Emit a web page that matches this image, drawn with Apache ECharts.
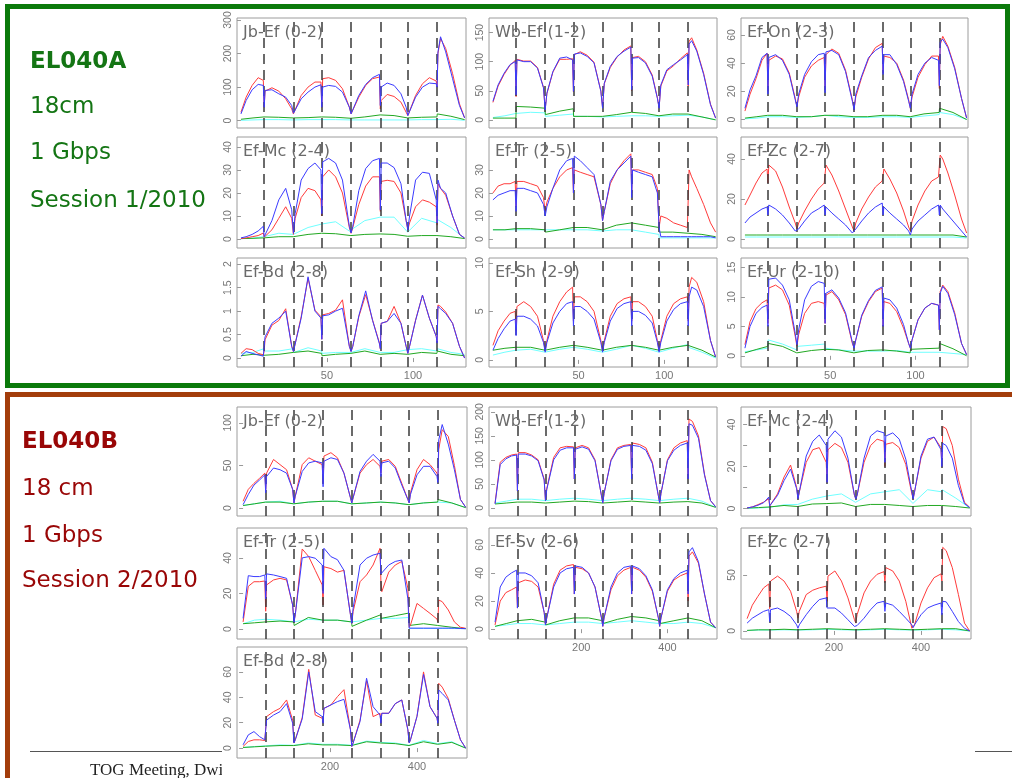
<!DOCTYPE html>
<html><head><meta charset="utf-8">
<script src="https://cdn.jsdelivr.net/npm/echarts@6/dist/echarts.min.js"></script>
<style>html,body{margin:0;padding:0;background:#fff}#c{width:1012px;height:778px}</style>
</head><body><div id="c"></div>
<script>
// ---------- x samples ----------
const X_TOP = [0,3,6.5,10,13,13.5,14,18,22,26,29.5,30.5,31.5,35,39,43,46.5,47,47.5,51,55,59,63,64,65,68.5,72.5,76.5,80.5,81,81.5,85,89,93,96,97,98,101.5,105.5,109.5,113.5,114,114.5,116,119,123,127,130];
const XL_TOP = [0,7,13.4,13.6,22,30.4,30.6,39,46.9,47.1,55,63.9,64.1,72,80.9,81.1,89,96.9,97.1,105,113.9,114.1,122,130];
const X_BOT = [0,12,25,38,50,52,54,70,85,100,114,117,120,136,151,166,182,184,186,202,217,232,247,250,253,269,284,299,315,317,319,335,350,365,379,382,385,400,415,430,446,448,450,458,472,486,500,512];
const XL_BOT = [0,26,51.5,52.5,85,116.5,117.5,150,183.5,184.5,217,249.5,250.5,284,316.5,317.5,350,381.5,382.5,415,447.5,448.5,480,512];
const DASH_TOP = [13.5,30.5,47,64,81,97,114];
const DASH_BOT = [52,117,184,250,317,382,448];
const XTICK_TOP = [50,100];
const XTICK_BOT = [200,400];

// ---------- EL040A ----------
const A1_red  = [25,70,105,128,120,40,88,98,88,65,35,20,25,75,100,115,115,40,125,128,120,95,40,20,25,70,105,125,130,35,60,78,72,55,25,15,20,75,110,128,118,100,200,245,215,140,50,8];
const A1_blue = [20,60,92,108,105,40,90,92,80,70,45,22,22,65,85,100,107,40,100,105,102,85,40,20,25,75,108,128,138,45,100,112,105,80,40,15,20,70,100,112,110,100,205,250,205,125,45,8];
const A1_cyan = [1,2,3,3,3,2,2,3,3,3,3,2,2,2,2,2,2,2,2,3,3,6,4,1];
const A1_green= [4,8,11,9,10,8,6,9,11,9,10,7,6,11,17,14,15,8,7,10,11,20,13,3];

const A2_red  = [30,58,78,94,102,40,104,101,101,90,56,18,45,82,104,104,105,48,112,117,111,99,50,21,62,90,108,120,127,50,107,109,100,77,38,21,58,84,93,105,115,58,135,141,120,80,27,3];
const A2_blue = [32,60,80,95,100,43,103,100,100,89,55,17,46,83,106,108,103,49,113,115,109,98,49,20,63,92,109,118,125,52,106,107,98,75,37,20,60,86,95,103,112,60,130,136,118,78,26,3];
const A2_cyan = [4,7,11,13,13,12,6,8,10,6,6,5,4,6,7,7,7,6,7,7,8,9,5,0];
const A2_green= [3,3,3,23,22,20,9,15,19,6,6,6,4,9,13,14,11,7,9,10,10,8,5,0];

const A3_red  = [6,18,29,42,47,20,42,45,43,33,15,9,16,30,38,42,44,21,46,50,47,35,14,7,16,30,43,51,54,33,45,44,40,28,14,8,16,30,39,45,45,22,53,59,52,37,15,1];
const A3_blue = [8,21,31,44,47,18,44,46,42,32,14,9,18,32,41,46,47,19,48,49,46,34,13,7,18,31,44,49,52,32,46,46,39,27,13,8,18,32,40,44,42,24,55,57,51,36,15,1];
const A3_cyan = [0.5,1,2,2,2,1.5,1,2,3,2.5,2,1.5,1,1.5,2,2,2,1.5,1,2.5,3.5,5,3.5,0];
const A3_green= [1,2,3,3,3,2,1,2,3,3,3,2,1,2,3,3,3,2,1,4,5,8,5,0];

const B1_red  = [0.2,0.5,1,1.5,2.6,0.8,0.8,4,9,14,9,2,9,18,22,21,17,10,27,30,27,20,5,2.5,5,15,23,27,27,12,25,25.5,25,20,8,4,7,14,17,16,14,6,24,22,19,10,2,0.4];
const B1_blue = [0.5,1,2,3.5,5.5,1,1,8,17,22,12.7,2.5,11,25.6,30.6,33,30,11,33.5,35,33,25.6,5.5,2.6,5.5,21,30.6,34,35,12.7,33,33,31,24,8,4,10,25.6,29,28.5,17,7,25.6,22,20,10,2,0.4];
const B1_cyan = [0.1,0.4,1,0.8,2.5,2,2.5,5,6.5,7,7.5,3,4,8,9.5,9,9.5,3,3,9,7,8.5,5,0.3];
const B1_green= [0.2,0.3,0.5,0.5,1,1,1,2,2.5,2.5,2.3,1.5,1.5,2,2.2,2.2,2,1.2,1.2,1.5,1.5,2,1,0.2];

const B2_red  = [20,23,24,24,25,14,25,25,24,23,18,12,16,22,27,30,31,20,30,29,28,27,15,8,12,24,30,34,37,20,30,30,29,28,22,5,10,9,7,6,5,5,30,27,22,15,7,3];
const B2_blue = [17,19,20,21,21,12,22,22,21,20,15,10,14,22,30,34,35,20,36,34,31,28,15,8,12,25,30,33,36,18,30,29,28,27,20,5,1,1,1,1,1,1,1,1,1,1,1,0.5];
const B2_cyan = [4,4,4,4,4,4,3.5,4,4,4,4,3.5,3,4,4,3.5,3,2,0.5,0.5,0.5,0.5,0.5,0.5];
const B2_green= [4,4,4.5,4.5,4.5,4,3,4,5,5,5,4,4,6,7,7,6,5,3,3,2.5,2.5,2,1];

const B3_red  = [17,22,28,33,35,28,37,34,26,16,8,5,8,14,20,25,28,28,37,32,24,15,6,4,8,15,21,26,29,28,35,30,23,14,6,4,9,17,24,29,31,30,42,40,33,22,10,3];
const B3_blue = [8,11,13,15,16,12,17,15,12,8,4,3,5,9,13,15,17,12,16,13,10,7,3,2,5,9,13,16,18,12,16,13,10,7,4,2,5,9,12,15,17,12,17,15,12,8,4,1];
const B3_cyan = [1,1,1,1,1,1,1,1,1,1,1,1,1,1,1,1,1,1,1,1,1,1,1,0.5];
const B3_green= [2,2,2,2,2,2,2,2,2,2,2,2,2,2,2,2,2,2,2,2,2,3,2,1];

const C1_red  = [0.1,0.2,0.18,0.1,0.07,0.15,0.39,0.7,0.8,1.05,0.25,0.14,0.18,0.88,1.7,1.02,0.88,0.4,0.92,0.95,1.02,1.24,0.25,0.14,0.25,0.88,1.35,0.81,0.32,0.2,0.74,0.78,1.1,0.74,0.25,0.1,0.25,0.81,1.34,0.85,0.46,0.32,1.13,1.1,0.98,0.74,0.25,0];
const C1_blue = [0.04,0.14,0.1,0.07,0.04,0.25,0.45,0.74,0.85,1.0,0.25,0.14,0.18,0.85,1.73,1.0,0.85,0.4,0.9,0.92,1.0,1.06,0.25,0.14,0.25,0.9,1.43,0.8,0.3,0.2,0.74,0.78,0.95,0.74,0.25,0.1,0.25,0.8,1.34,0.85,0.46,0.32,1.1,1.05,0.95,0.74,0.25,0];
const C1_cyan = [0.1,0.12,0.2,0.15,0.15,0.2,0.12,0.22,0.15,0.1,0.12,0.12,0.1,0.2,0.12,0.15,0.12,0.18,0.15,0.2,0.15,0.2,0.12,0.08];
const C1_green= [0.05,0.08,0.06,0.1,0.08,0.12,0.1,0.15,0.1,0.05,0.08,0.1,0.1,0.15,0.08,0.12,0.1,0.08,0.1,0.12,0.1,0.15,0.08,0.05];

const C2_red  = [1.5,3,4,4.8,5,3,5.5,6,5.5,4.5,2,1,2,4.5,6,7,7.5,4,6.5,6.5,6,5,2,1,2,4.5,5.8,6.3,6.5,4,6,6,5.5,4.5,2,1,2,4.5,5.8,6.3,6.5,4,7.5,8.5,8,6,2,0.3];
const C2_blue = [1,2.2,3.2,4,4.2,2.5,4.5,4.5,4.2,3.5,1.8,0.8,1.8,3.8,5,5.8,6,3.5,5.5,5.5,5,4.2,1.8,0.8,1.8,4,5.3,5.8,6,3.5,5,5,4.6,3.8,1.8,0.8,1.8,4,5.2,5.8,6,3.5,6.5,7.5,7.2,5.5,2,0.3];
const C2_cyan = [0.5,0.8,1,1.2,1.1,0.8,0.8,1.1,1.3,1.3,1.1,0.8,0.8,1.1,1.5,1.5,1.2,0.8,0.8,1.2,1.6,1.3,0.8,0.2];
const C2_green= [1,1.2,1.3,1.5,1.3,1,1,1.3,1.5,1.5,1.3,1,1,1.3,1.5,1.5,1.3,1,1,1.3,1.5,1.5,1,0.3];

const C3_red  = [1.9,5.8,8,9,9.5,5.5,11.5,12,11.2,8.6,3.3,1.6,3.6,7.2,8.9,9.2,8.9,5.5,10.3,10.9,9.5,7,2.1,1.3,2.7,6.7,9.2,10.9,11.5,5,9.2,8.9,7.5,4.7,2.1,1.3,2.7,6.1,8.1,8.9,8.6,4.4,10.9,12,10.9,7.3,2.1,0.2];
const C3_blue = [1.3,5,7.2,8.2,8.6,5,13,13.2,12,9.5,3.8,1.9,4.4,9.5,11.8,12.6,12.3,5.5,10.6,11.2,9.8,7.3,2.3,1.3,2.7,6.9,9.4,11.1,11.7,5,9.8,9.5,8.1,5.3,2.1,1.3,2.7,6.1,8.1,8.9,8.6,4.4,10.6,11.8,10.6,7,2.1,0.2];
const C3_cyan = [0.7,1,1.3,2.7,2,1,1.6,1.8,2,1.3,1,0.8,0.6,0.8,0.8,1,0.9,0.6,0.6,0.6,0.6,0.5,0.4,0.2];
const C3_green= [0.5,1.1,1.6,2.1,1.6,0.5,0.7,0.9,1.1,1.2,1,0.5,0.7,0.9,1,1,0.8,0.5,1.1,1.2,1.3,2.1,1.2,0];

// ---------- EL040B ----------
const D1_red  = [8,22,29,35,41,22,41,57,51,45,22,6,14,51,59,55,51,29,61,65,59,41,12,6,12,41,51,57,49,41,55,57,49,29,10,6,18,45,57,51,41,33,69,92,84,50,10,1];
const D1_blue = [4,16,27,33,39,18,37,47,45,41,22,6,14,43,53,55,53,25,55,59,57,41,12,6,12,43,55,63,55,37,53,55,47,27,10,6,16,39,49,49,37,30,80,98,75,45,10,1];
const D1_cyan = [3,5,7,9,8,5,5,7,8,7,8,5,5,6,7,6,6,4,4,6,7,9,6,0.5];
const D1_green= [3,5,7,6,7,5,5,7,8,7,8,5,5,6,7,6,6,4,4,6,7,10,6,0.5];

const D2_red  = [10,95,105,110,112,35,115,115,110,100,60,15,40,105,125,128,127,60,125,130,125,100,25,10,30,100,125,130,132,60,135,132,125,95,25,10,30,100,125,135,140,60,185,180,150,70,15,2];
const D2_blue = [8,90,102,108,110,35,112,112,108,98,58,15,38,100,120,125,125,60,122,127,122,98,25,10,30,98,122,128,130,60,130,128,120,92,25,10,30,98,120,130,135,60,175,172,145,68,15,2];
const D2_cyan = [10,14,18,18,18,15,15,18,20,20,18,15,15,18,20,20,18,15,15,18,20,20,14,1];
const D2_green= [8,10,12,12,12,10,10,12,14,14,13,10,10,12,14,14,12,10,10,12,13,15,10,1];

const D3_red  = [0.3,0.8,1.9,3.1,4.7,1.3,1.6,7,15,20.7,10,4.7,7.8,22,28,29,22,12.5,28,31,29,22,6.3,4.7,6.3,22,30,33,32,20,30.6,31.4,29,21,7,4.7,7.8,24,32,34,29,20,39,38,30,14,3,0.6];
const D3_blue = [0.3,0.8,1.6,2.8,5.5,1.3,1.6,6.3,13.3,18.8,9.4,4.7,7.8,25,32,35,30,12.5,33,37,34,24,6.3,4.7,6.3,24,34.5,37,36,22,34.5,36,33,23.5,7.8,4.7,7.8,25,33,34,28,20,31,30,24,11,2.4,0.5];
const D3_cyan = [0.1,0.3,0.6,0.6,1.8,2,2.5,4.5,6,6.5,7,3,3.5,7,8,8.5,9,2.5,3,9,8,9,5,0.3];
const D3_green= [0.3,0.5,0.8,0.8,1.5,1,1.5,2.2,2.4,2.4,2.7,1,1.2,2,2,2,1.5,1,1,1.5,1.5,2,1,0.3];

const E1_red  = [4,24,26.6,26.6,27,10,24.8,27.6,28.5,27.6,13.5,4,8,45,40.7,33,24.8,13.5,35,34,32,33,8,3.2,9.8,26.6,30.4,36,45.4,26.6,21,32,36,38,23,1,2.2,14.4,11.6,8.8,5.6,4,16.3,15.4,10.7,4,1,0.4];
const E1_blue = [6,30,29.5,29.5,30.4,17,31,30.4,29.5,28.5,13.5,4,8,40,40.7,39.8,36,20,45.4,40.7,39,33,8,3.2,11.6,36,39.8,41.6,42.6,31,31,36,38,38.8,17,0.5,0.5,0.5,0.5,0.5,0.5,0.5,0.5,0.5,0.5,0.5,0.3,0.2];
const E1_cyan = [3,5,5.5,5.5,5,4,3,5.5,5,5,5,4,4,5,6,5,6,6.5,0.4,0.3,0.3,0.3,0.3,0.2];
const E1_green= [3,3.5,4,4,4.5,4,2,6.5,5,5.5,5,4,1.5,5,8,6,7.5,9,2,3,2,1.5,1,0.2];

const E2_red  = [3,20,26,28,30,15,33,35,34,30,12,3,8,32,42,45,46,25,44,43,40,30,8,2,8,28,38,42,44,25,44,42,37,27,8,2,8,27,35,38,40,20,52,55,47,25,5,1];
const E2_blue = [5,30,37,40,42,15,40,40,38,33,12,3,8,30,40,43,44,25,45,44,40,30,8,2,8,30,40,44,45,25,45,43,38,28,8,2,8,28,36,40,42,25,55,58,48,25,5,1];
const E2_cyan = [2,3,4,4,4,3,2,4,5,5,5,4,3,5,6,6,5,4,3,4,5,5,4,1];
const E2_green= [2,4,6,6,7,5,3,6,8,8,8,6,4,7,9,9,8,6,4,6,8,8,6,1];

const E3_red  = [11,23,31,38.5,42,20,44.6,49,44.6,35.5,17.5,11.4,17.5,32.5,36.4,38.5,40,26.5,49,53.6,44.6,29.5,10,7,14.5,34,44.6,50.6,53,43,56.6,53.6,44.6,26.5,2.4,1,5.4,25,38.5,47.6,51,44.6,74.7,71.7,56.6,32.5,7,0];
const E3_blue = [7,11.4,14.5,17.5,19,8.4,19,20.5,17.5,13,5.4,2.4,5.4,14.5,22,28,29.5,20.5,22,20.5,16,10,4,2.4,4.8,11.4,19,25,26.5,17.5,25,23,17.5,11.4,5.4,3,5.4,14.5,20.5,23,25,14.5,26.5,26,17.5,8.4,2.4,0];
const E3_cyan = [0.3,0.8,0.8,0.8,1,0.8,0.8,1,1.5,1.5,1,0.8,0.8,1,1.5,1.5,1,0.8,0.8,1,1.5,1.5,1,0];
const E3_green= [0.5,1,1,1,1.5,1,1,1.5,2,2,1.5,1,1,1.5,2,2,1.5,1,1,1.5,2,2,2,0];

const F1_red  = [1.3,5.2,6.5,6.5,6,6,24.8,28.7,31.3,37.9,22,4,6.5,24,62,26,23.5,19.6,31.3,34,40.5,46,14.4,1.3,4,22,53,24.8,27.4,19.6,27.4,27.4,35,37.9,14.4,4,6.5,25,60,32.6,23.5,19.6,51,48,39,22,6.5,0];
const F1_blue = [2.6,10.4,13,9,6.5,6,22,26,28.7,35,19.6,4,6.5,23,60,28.7,24.8,19.6,31.3,34,36.6,38.4,14.4,1.3,4,21,55,32.6,26,19.6,27.4,27.4,35,37.9,14.4,4,6.5,25,58,32.6,23.5,19.6,45.7,43,37.9,22,6.5,0];
const F1_cyan = [0.5,1.2,1.8,1.8,2.5,2.2,2.2,4,3,3,3,2.2,2.2,5.5,4.5,4,4,2.2,2.2,6,3.5,5,5,0];
const F1_green= [0.5,1,1.5,1.5,2,2,2,3.4,2.5,2.5,2.5,2,2,5,4,3.5,3.5,2,2,5,3,4.5,4.5,0];

// ---------- axis ticks ----------
const YT_A1=[0,100,200,300], YT_A2=[0,50,100,150], YT_A3=[0,20,40,60];
const YT_B1=[0,10,20,30,40], YT_B2=[0,10,20,30], YT_B3=[0,20,40];
const YT_C1=[0,0.5,1,1.5,2], YT_C2=[0,5,10], YT_C3=[0,5,10,15];
const YT_D1=[0,50,100], YT_D2=[0,50,100,150,200], YT_D3=[0,10,20,30,40], YL_D3=[0,20,40];
const YT_E1=[0,20,40], YT_E2=[0,20,40,60], YT_E3=[0,50], YT_F1=[0,20,40,60];

const PANELS = [
 {t:'Jb-Ef (0-2)', s:'top', r:0,c:0, d:[A1_red,A1_blue,A1_cyan,A1_green], y:[-22,306], yt:YT_A1},
 {t:'Wb-Ef (1-2)', s:'top', r:0,c:1, d:[A2_red,A2_blue,A2_cyan,A2_green], y:[-14,175], yt:YT_A2},
 {t:'Ef-On (2-3)', s:'top', r:0,c:2, d:[A3_red,A3_blue,A3_cyan,A3_green], y:[-6,72], yt:YT_A3},
 {t:'Ef-Mc (2-4)', s:'top', r:1,c:0, d:[B1_red,B1_blue,B1_cyan,B1_green], y:[-3.9,44.3], yt:YT_B1},
 {t:'Ef-Tr (2-5)', s:'top', r:1,c:1, d:[B2_red,B2_blue,B2_cyan,B2_green], y:[-3.9,44.3], yt:YT_B2},
 {t:'Ef-Zc (2-7)', s:'top', r:1,c:2, d:[B3_red,B3_blue,B3_cyan,B3_green], y:[-4.5,51], yt:YT_B3},
 {t:'Ef-Bd (2-8)', s:'top', r:2,c:0, d:[C1_red,C1_blue,C1_cyan,C1_green], y:[-0.19,2.13], yt:YT_C1, xl:true},
 {t:'Ef-Sh (2-9)', s:'top', r:2,c:1, d:[C2_red,C2_blue,C2_cyan,C2_green], y:[-0.73,10.5], yt:YT_C2, xl:true},
 {t:'Ef-Ur (2-10)',s:'top', r:2,c:2, d:[C3_red,C3_blue,C3_cyan,C3_green], y:[-1.9,16.6], yt:YT_C3, xl:true},
 {t:'Jb-Ef (0-2)', s:'bot', r:0,c:0, d:[D1_red,D1_blue,D1_cyan,D1_green], y:[-9.3,118.6], yt:YT_D1},
 {t:'Wb-Ef (1-2)', s:'bot', r:0,c:1, d:[D2_red,D2_blue,D2_cyan,D2_green], y:[-17,210], yt:YT_D2},
 {t:'Ef-Mc (2-4)', s:'bot', r:0,c:2, d:[D3_red,D3_blue,D3_cyan,D3_green], y:[-3.5,48.3], yt:YT_D3, yl:YL_D3},
 {t:'Ef-Tr (2-5)', s:'bot', r:1,c:0, d:[E1_red,E1_blue,E1_cyan,E1_green], y:[-5.6,56.8], yt:YT_E1},
 {t:'Ef-Sv (2-6)', s:'bot', r:1,c:1, d:[E2_red,E2_blue,E2_cyan,E2_green], y:[-7,72], yt:YT_E2, xl:true},
 {t:'Ef-Zc (2-7)', s:'bot', r:1,c:2, d:[E3_red,E3_blue,E3_cyan,E3_green], y:[-7.2,92], yt:YT_E3, xl:true},
 {t:'Ef-Bd (2-8)', s:'bot', r:2,c:0, d:[F1_red,F1_blue,F1_cyan,F1_green], y:[-7.8,79.6], yt:YT_F1, xl:true}
];

// ---------- layout / style ----------
const LAYOUT = {
 top:{cols:[[237,466],[489,717],[741,968]], rows:[[18,128],[137,248],[258,367]], xr:[-2.3,130.8]},
 bot:{cols:[[237,467],[489,717],[741,971]], rows:[[407,516],[528,639],[647,758]], xr:[-14,515]}
};
const COLORS = ['#ff3b3b','#3b3bff','#70ffff','#22a822'];
const AXF = "'Liberation Sans Narrow','Liberation Sans',sans-serif";

const grids=[], xAxis=[], yAxis=[], series=[], titles=[];
PANELS.forEach((p,i)=>{
  const L=LAYOUT[p.s]; const [x0,x1]=L.cols[p.c]; const [y0,y1]=L.rows[p.r];
  grids.push({left:x0, top:y0, width:x1-x0, height:y1-y0, show:true, borderColor:'#9c9c9c', borderWidth:1, backgroundColor:'#fff'});
  const xt = p.s==='top'?XTICK_TOP:XTICK_BOT;
  xAxis.push({type:'value', gridIndex:i, min:L.xr[0], max:L.xr[1], axisLine:{show:false}, splitLine:{show:false},
    axisTick:{show:!!p.xl, customValues:xt, length:4, lineStyle:{color:'#999'}},
    axisLabel:{show:!!p.xl, customValues:xt, color:'#777', fontSize:11, margin:3, fontFamily:AXF}});
  yAxis.push({type:'value', gridIndex:i, min:p.y[0], max:p.y[1], axisLine:{show:false}, splitLine:{show:false},
    axisTick:{show:true, customValues:p.yt, length:4, lineStyle:{color:'#999'}},
    axisLabel:{customValues:p.yl||p.yt, rotate:90, color:'#777', fontSize:10.5, margin:3, fontFamily:AXF}});
  titles.push({text:p.t, left:x0+6, top:y0+7, padding:0, textStyle:{fontFamily:"'DejaVu Sans',sans-serif", fontSize:16, fontWeight:'normal', color:'#6a6a6a'}});
  const X = p.s==='top'?X_TOP:X_BOT, XL = p.s==='top'?XL_TOP:XL_BOT;
  const order=[2,3,0,1];
  order.forEach(k=>{
    const xs = k<2?X:XL; const ys=p.d[k];
    const s={type:'line', xAxisIndex:i, yAxisIndex:i, showSymbol:false, symbol:'none', animation:false, silent:true,
      data:xs.map((x,j)=>[x,ys[j]]), lineStyle:{color:COLORS[k], width:1}, z:2+order.indexOf(k)};
    if(k===1){
      s.markLine={silent:true, symbol:'none', animation:false, label:{show:false},
        lineStyle:{color:'#3a3a3a', width:1.5, type:[10,6]},
        data:(p.s==='top'?DASH_TOP:DASH_BOT).map(v=>({xAxis:v}))};
    }
    series.push(s);
  });
});

const TXT = "'DejaVu Sans',sans-serif";
const gA='#147514', gB='#990606';
const graphic=[
  {type:'rect', shape:{x:7.5,y:6.5,width:1000,height:379}, style:{fill:'none', stroke:'#0b7a0b', lineWidth:5}, z:-5},
  {type:'rect', shape:{x:7.5,y:394.5,width:1012,height:420}, style:{fill:'none', stroke:'#a33d0b', lineWidth:5}, z:-5},
  {type:'text', style:{text:'EL040A', x:30, y:74, font:"bold 23px "+TXT, fill:gA, textVerticalAlign:'bottom'}},
  {type:'text', style:{text:'18cm', x:30, y:119, font:"23px "+TXT, fill:gA, textVerticalAlign:'bottom'}},
  {type:'text', style:{text:'1 Gbps', x:30, y:165, font:"23px "+TXT, fill:gA, textVerticalAlign:'bottom'}},
  {type:'text', style:{text:'Session 1/2010', x:30, y:213, font:"23px "+TXT, fill:gA, textVerticalAlign:'bottom'}},
  {type:'text', style:{text:'EL040B', x:22, y:454, font:"bold 23px "+TXT, fill:gB, textVerticalAlign:'bottom'}},
  {type:'text', style:{text:'18 cm', x:22, y:501, font:"23px "+TXT, fill:gB, textVerticalAlign:'bottom'}},
  {type:'text', style:{text:'1 Gbps', x:22, y:548, font:"23px "+TXT, fill:gB, textVerticalAlign:'bottom'}},
  {type:'text', style:{text:'Session 2/2010', x:22, y:593, font:"23px "+TXT, fill:gB, textVerticalAlign:'bottom'}},
  {type:'line', shape:{x1:30,y1:751.5,x2:222,y2:751.5}, style:{stroke:'#555', lineWidth:1}, z:-4},
  {type:'line', shape:{x1:975,y1:751.5,x2:1012,y2:751.5}, style:{stroke:'#555', lineWidth:1}, z:-4},
  {type:'text', style:{text:'TOG Meeting, Dwingeloo', x:90, y:762, font:"17px 'Liberation Serif',serif", fill:'#222', textVerticalAlign:'top'}, z:-4},
  {type:'rect', shape:{x:222,y:745,width:753,height:40}, style:{fill:'#fff'}, z:-3}
];

const chart = echarts.init(document.getElementById('c'), null, {renderer:'canvas'});
chart.setOption({animation:false, backgroundColor:'#fff', title:titles, grid:grids, xAxis, yAxis, series, graphic});
</script></body></html>
